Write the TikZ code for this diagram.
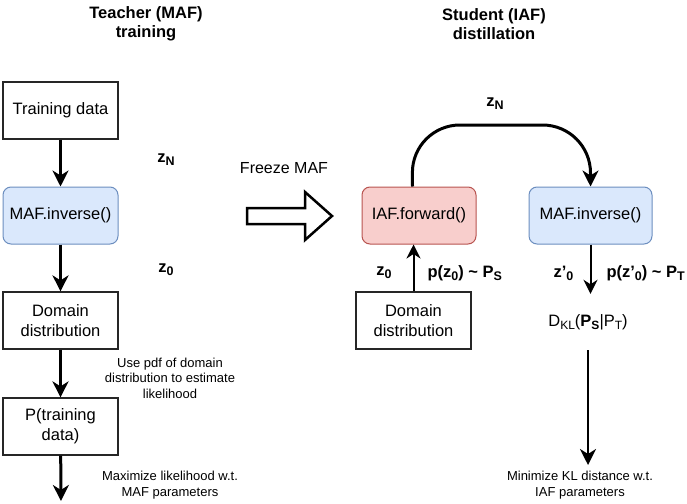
\documentclass[tikz,border=0pt]{standalone}
\usepackage{fontspec}
\setmainfont{Liberation Sans}
\usetikzlibrary{arrows.meta,calc}
\definecolor{bfill}{HTML}{DAE8FC}
\definecolor{bdraw}{HTML}{6C8EBF}
\definecolor{rfill}{HTML}{F8CECC}
\definecolor{rdraw}{HTML}{B85450}
\newcommand\mysub[1]{\raisebox{-0.35ex}{\fontsize{12.5}{13}\selectfont #1}}
\newcommand\mysubs[1]{\raisebox{-0.35ex}{\fontsize{12}{13}\selectfont #1}}
\begin{document}
\begin{tikzpicture}[x=1pt,y=-1pt,
  box/.style={draw=black!85,line width=1.2pt,minimum height=57pt,inner sep=2pt,align=center,font=\fontsize{16.5}{20}\selectfont},
  bluebox/.style={box,draw=bdraw,fill=bfill,rounded corners=8pt,line width=1pt},
  redbox/.style={box,draw=rdraw,fill=rfill,rounded corners=8pt,line width=1pt},
  title/.style={font=\fontsize{16.5}{19}\selectfont\bfseries,align=center},
  lab/.style={font=\fontsize{16.5}{19}\selectfont\bfseries},
  small/.style={font=\fontsize{13}{15.5}\selectfont,align=center},
  thick arrow/.style={line width=3pt,-{Stealth[length=16pt,width=16pt,inset=5pt]}},
  thin arrow/.style={line width=2pt,-{Stealth[length=14pt,width=14pt,inset=4.5pt]}}
]
\useasboundingbox (0,0) rectangle (687,503);
% titles
\node[title] (t1) at (146,24) {Teacher (MAF)\\training};
\node[title] (t2) at (494,24) {Student (IAF)\\distillation};
% left column
\node[box,minimum width=115pt] (train) at (60.5,110.5) {Training data};
\node[bluebox,minimum width=115pt] (mafL) at (60.5,215.5) {MAF.inverse()};
\node[box,minimum width=115pt] (domL) at (60.5,320.5) {Domain\\distribution};
\node[box,minimum width=115pt] (ptrain) at (60.5,426.5) {P(training\\data)};
\coordinate (endL) at (61,501);
\draw[thick arrow] (train) -- (mafL);
\draw[thick arrow] (mafL) -- (domL);
\draw[thick arrow] (domL) -- (ptrain);
\draw[thick arrow] (ptrain) -- (endL);
\node[lab] (zNL) at (166,160) {z\mysub{N}};
\node[lab] (z0L) at (166,270) {z\mysub{0}};
\node[small] (usepdf) at (170,378) {Use pdf of domain\\distribution to estimate\\likelihood};
\node[small] (maxl) at (170,485) {Maximize likelihood w.t.\\MAF parameters};
% freeze
\node[font=\fontsize{16}{19}\selectfont] (freeze) at (284,168) {Freeze MAF};
\draw[line width=2.5pt,line join=miter] (247,208) -- (305,208) -- (305,192) -- (332,216) -- (305,240) -- (305,224) -- (247,224) -- cycle;
% right
\node[redbox,minimum width=114pt] (iaf) at (419,215.5) {IAF.forward()};
\node[bluebox,minimum width=123pt] (mafR) at (590.5,215.5) {MAF.inverse()};
\node[box,minimum width=115pt] (domR) at (413.5,320.5) {Domain\\distribution};
\node[minimum height=56pt,inner sep=0pt,font=\fontsize{16.5}{20}\selectfont] (dkl) at (588,322) {D\mysubs{KL}(\textbf{P\mysubs{S}}|P\mysubs{T})};
\coordinate (endR) at (588,465);
\draw[line width=3pt,rounded corners=48pt,-{Stealth[length=16pt,width=16pt,inset=5pt]}] ($(iaf.north)+(-6.5,0)$) -- (412,125) -- (590.5,125) -- (mafR.north);
\draw[thin arrow] (domR.north) -- (domR.north |- iaf.south);
\draw[thin arrow] (mafR.south) -- (mafR.south |- dkl.north);
\draw[line width=2.5pt,-{Stealth[length=16pt,width=16pt,inset=5pt]}] (dkl.south) -- (endR);
\node[lab] (zNR) at (495,104) {z\mysub{N}};
\node[lab] (z0R) at (384,273) {z\mysub{0}};
\node[lab,anchor=west] (pS) at (424,273) {p(z\mysub{0}) \textasciitilde{} P\mysub{S}};
\node[lab,anchor=west] (z0p) at (550,273) {z'\mysub{0}};
\node[lab,anchor=west] (pT) at (603,273) {p(z'\mysub{0}) \textasciitilde{} P\mysub{T}};
\node[small] (minkl) at (580,485) {Minimize KL distance w.t.\\IAF parameters};
\end{tikzpicture}
\end{document}
